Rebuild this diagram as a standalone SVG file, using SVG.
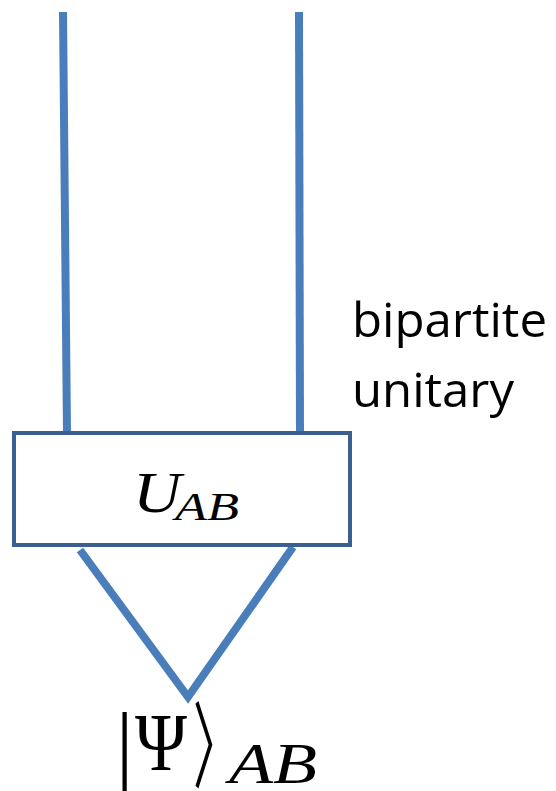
<svg xmlns="http://www.w3.org/2000/svg" width="556" height="791" viewBox="0 0 556 791">
  <style>
    .wire { stroke: #4a7ebb; stroke-width: 8; fill: none; }
    .box { stroke: #3b5f91; stroke-width: 4; fill: #ffffff; }
    .math { font-family: "Liberation Serif", "DejaVu Serif", serif; font-style: italic; fill: #000; }
    .upright { font-family: "Liberation Serif", "DejaVu Serif", serif; fill: #000; }
    .label { font-family: "Open Sans", "Noto Sans", sans-serif; font-size: 48px; fill: #000; }
  </style>
  <g id="connectors">
    <line class="wire" x1="63" y1="12" x2="67" y2="434"/>
    <line class="wire" x1="299" y1="12" x2="300" y2="434"/>
    <polyline class="wire" points="80,550 188,697 293,547"/>
  </g>
  <g id="unitary">
    <rect class="box" x="14" y="433" width="336" height="112"/>
    <text class="math" x="133" y="512" font-size="58" textLength="48" lengthAdjust="spacingAndGlyphs">U</text>
    <text class="math" x="175" y="520" font-size="40" textLength="64" lengthAdjust="spacingAndGlyphs">AB</text>
  </g>
  <g id="state">
    <text class="upright" x="116" y="772" font-size="86" font-weight="300">|</text>
    <text class="upright" x="135" y="770" font-size="82" textLength="52" lengthAdjust="spacingAndGlyphs">Ψ</text>
    <text x="190" y="781" font-family="'Noto Sans CJK SC', sans-serif" font-size="94" font-weight="400" transform="translate(196 0) scale(0.5 1) translate(-196 0)" fill="#000">〉</text>
    <text class="math" x="229" y="783" font-size="56" textLength="88" lengthAdjust="spacingAndGlyphs">AB</text>
  </g>
  <g id="caption">
    <text class="label" x="352" y="337" textLength="195" lengthAdjust="spacingAndGlyphs">bipartite</text>
    <text class="label" x="352" y="407" textLength="162" lengthAdjust="spacingAndGlyphs">unitary</text>
  </g>
</svg>
